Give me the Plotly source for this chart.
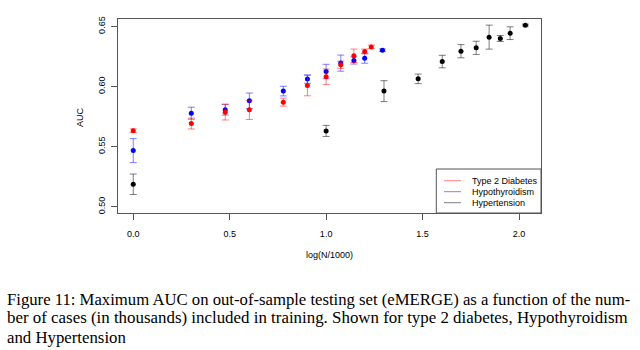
import plotly.graph_objects as go

# ---- data ----
t2d_x = [0.0, 0.301, 0.477, 0.602, 0.778, 0.903, 1.0, 1.076, 1.144, 1.2, 1.234]
t2d_y = [0.5633, 0.5692, 0.5787, 0.5806, 0.5870, 0.6008, 0.6081, 0.6181, 0.6256, 0.6292, 0.6330]
t2d_e = [0.0015, 0.0045, 0.0065, 0.0080, 0.0033, 0.0085, 0.0065, 0.0030, 0.0056, 0.0020, 0.0015]

hypo_x = [0.0, 0.301, 0.477, 0.602, 0.778, 0.903, 1.0, 1.076, 1.144, 1.2, 1.292]
hypo_y = [0.5467, 0.5778, 0.5808, 0.5881, 0.5962, 0.6062, 0.6125, 0.6195, 0.6217, 0.6236, 0.6303]
hypo_e = [0.0100, 0.0050, 0.0045, 0.0065, 0.0040, 0.0035, 0.0060, 0.0067, 0.0030, 0.0042, 0.0010]

hyper_x = [0.0, 1.0, 1.3, 1.477, 1.602, 1.699, 1.778, 1.845, 1.903, 1.954, 2.033]
hyper_y = [0.5187, 0.5631, 0.5962, 0.6064, 0.6208, 0.6294, 0.6322, 0.6411, 0.6400, 0.6444, 0.6511]
hyper_e = [0.0085, 0.0046, 0.0087, 0.0040, 0.0052, 0.0055, 0.0055, 0.0100, 0.0025, 0.0053, 0.0008]

x_ticks = [0.0, 0.5, 1.0, 1.5, 2.0]
y_ticks = [0.50, 0.55, 0.60, 0.65]

series = [
    ("Hypothyroidism", hypo_x, hypo_y, hypo_e, "#0000ff", "rgba(0,0,255,0.5)"),
    ("Type 2 Diabetes", t2d_x, t2d_y, t2d_e, "#ff0000", "rgba(255,0,0,0.5)"),
    ("Hypertension", hyper_x, hyper_y, hyper_e, "#000000", "rgba(0,0,0,0.5)"),
]

fig = go.Figure()
for name, xs, ys, es, col, ecol in series:
    fig.add_trace(go.Scatter(
        x=xs, y=ys, mode="markers", name=name, showlegend=False,
        marker=dict(color=col, size=5, line=dict(width=0)),
        error_y=dict(type="data", array=es, visible=True, color=ecol,
                     thickness=1, width=3.5),
    ))

PL, PR, PT, PB = 118, 541, 19, 213
W, H = PR - PL, PB - PT


def px(X):
    return (X - PL) / W


def py(Y):
    return (PB - Y) / H


font_sans = "Liberation Sans, Arial, sans-serif"
axis_col = "#555555"

fig.update_layout(
    width=640, height=350,
    margin=dict(l=PL, r=640 - PR, t=PT, b=350 - PB),
    paper_bgcolor="white", plot_bgcolor="white",
    font=dict(family=font_sans, size=9, color="black"),
    xaxis=dict(range=[-0.079, 2.114], tickvals=x_ticks,
               ticktext=[f"{v:.1f}" for v in x_ticks],
               showgrid=False, zeroline=False, showline=True, mirror=True,
               linecolor=axis_col, linewidth=1, ticks="outside", ticklen=6,
               tickcolor=axis_col, tickfont=dict(size=9), ticklabelstandoff=6),
    yaxis=dict(range=[0.4948, 0.6562], tickvals=y_ticks,
               ticktext=[f"{v:.2f}" for v in y_ticks], tickangle=-90,
               showgrid=False, zeroline=False, showline=True, mirror=True,
               linecolor=axis_col, linewidth=1, ticks="outside", ticklen=6,
               tickcolor=axis_col, tickfont=dict(size=9), ticklabelstandoff=2),
)

# axis titles
fig.add_annotation(text="log(N/1000)", xref="paper", yref="paper",
                   x=px(329), y=py(255), xanchor="center", yanchor="middle",
                   showarrow=False, font=dict(size=9, family=font_sans))
fig.add_annotation(text="AUC", xref="paper", yref="paper", textangle=-90,
                   x=px(80), y=py(117), xanchor="center", yanchor="middle",
                   showarrow=False, font=dict(size=9, family=font_sans))

# legend box (R-style)
fig.add_shape(type="rect", xref="paper", yref="paper",
              x0=px(436.3), x1=1.0, y0=0.0, y1=py(169),
              line=dict(color=axis_col, width=1), fillcolor="white", layer="above")
legend_rows = [("Type 2 Diabetes", "rgba(255,0,0,0.5)", 180.7),
               ("Hypothyroidism", "rgba(0,0,255,0.5)", 191.7),
               ("Hypertension", "rgba(0,0,0,0.5)", 202.7)]
for lab, col, Y in legend_rows:
    fig.add_shape(type="line", xref="paper", yref="paper",
                  x0=px(444), x1=px(461), y0=py(Y), y1=py(Y),
                  line=dict(color=col, width=1), layer="above")
    fig.add_annotation(text=lab, xref="paper", yref="paper", x=px(470), y=py(Y),
                       xanchor="left", yanchor="middle", showarrow=False,
                       font=dict(size=9, family=font_sans))

# caption
caption = [
    ("Figure 11: Maximum AUC on out-of-sample testing set (eMERGE) as a function of the num-", 299.3, 16.7),
    ("ber of cases (in thousands) included in training. Shown for type 2 diabetes, Hypothyroidism", 317.7, 16.9),
    ("and Hypertension", 337.3, 16.8),
]
for txt, Y, fs in caption:
    fig.add_annotation(text=txt, xref="paper", yref="paper", x=px(5), y=py(Y),
                       xanchor="left", yanchor="middle", showarrow=False,
                       font=dict(size=fs, family="Liberation Serif, Times New Roman, serif"))

fig.write_html("out.html")
